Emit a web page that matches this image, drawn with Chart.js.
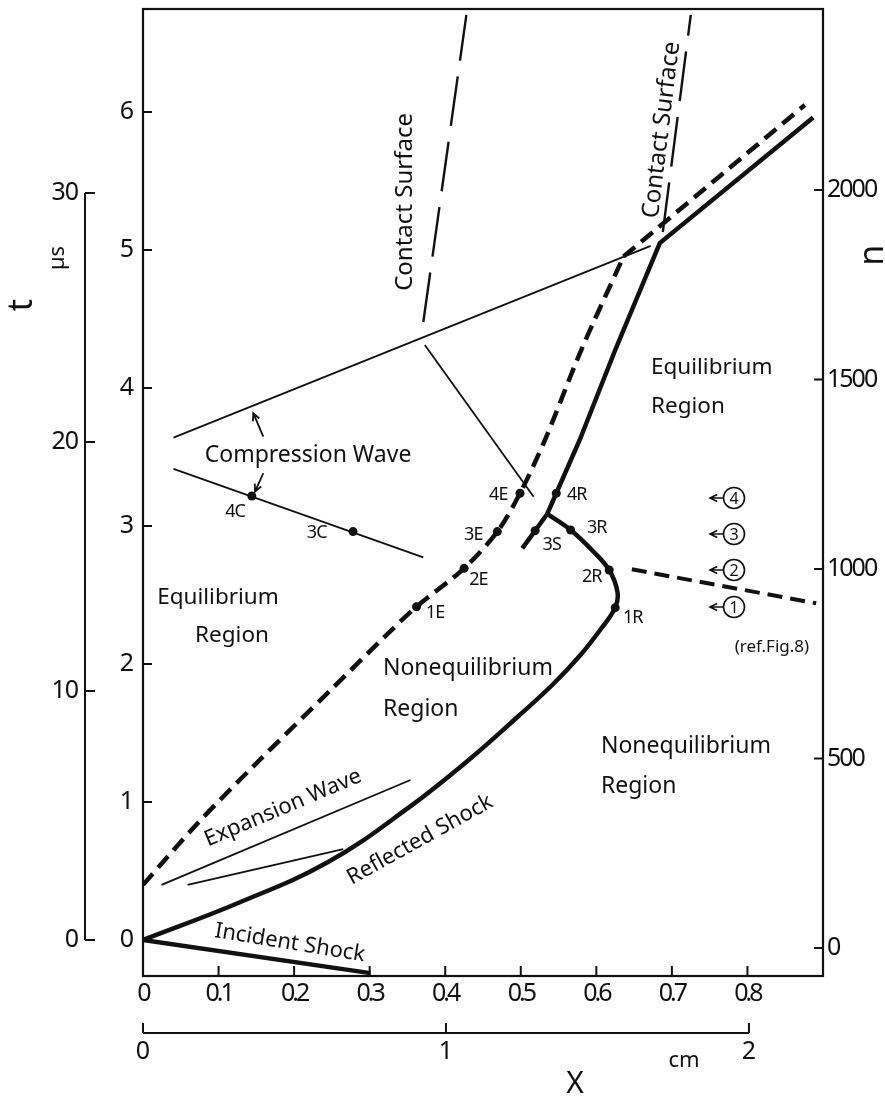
<!DOCTYPE html>
<html>
<head>
<meta charset="utf-8">
<script src="https://cdn.jsdelivr.net/npm/chart.js@4.4.0/dist/chart.umd.min.js"></script>
<style>
  html, body { margin: 0; padding: 0; background: #fff; }
</style>
</head>
<body>
<canvas id="c" width="885" height="1098"></canvas>
<script>
// axes
const X_TICKS = [0, 0.1, 0.2, 0.3, 0.4, 0.5, 0.6, 0.7, 0.8];
const T_TICKS = [0, 1, 2, 3, 4, 5, 6];
const N_TICKS = [0, 500, 1000, 1500, 2000];
const US_TICKS = [0, 10, 20, 30];   // left ruler, t in microseconds
const CM_TICKS = [0, 1, 2];         // bottom ruler, x in cm
const US_TO_T = 5.413 / 30;
const CM_TO_X = 0.401;

// wave paths (x, t)
const INCIDENT_SHOCK = [[0, 0], [0.301, -0.24]];
const REFLECTED_SHOCK = [[0, 0], [0.126, 0.268], [0.245, 0.565], [0.351, 0.957], [0.431, 1.304],
  [0.497, 1.623], [0.543, 1.855], [0.579, 2.065], [0.605, 2.246], [0.625, 2.408],
  [0.628, 2.52], [0.617, 2.681], [0.594, 2.826], [0.566, 2.971], [0.535, 3.087]];
const SHOCK_3S = [[0.502, 2.838], [0.535, 3.087]];
const SHOCK_UPPER = [[0.535, 3.087], [0.547, 3.237], [0.578, 3.623], [0.625, 4.275], [0.684, 5.05], [0.887, 5.96]];
const FRONT_DASHED = [[0, 0.40], [0.073, 0.85], [0.15, 1.28], [0.25, 1.82], [0.32, 2.198], [0.362, 2.415],
  [0.425, 2.693], [0.469, 2.959], [0.499, 3.237], [0.532, 3.623], [0.580, 4.275], [0.636, 4.952]];
const FRONT_DASHED_UPPER = [[0.636, 4.952], [0.876, 6.05]];
const REF_LINE = [[0.647, 2.686], [0.891, 2.44]];
const EXPANSION_1 = [[0.0245, 0.399], [0.354, 1.159]];
const EXPANSION_2 = [[0.059, 0.399], [0.265, 0.659]];
const COMPRESSION_1 = [[0.0404, 3.640], [0.672, 5.03]];
const COMPRESSION_2 = [[0.0404, 3.413], [0.371, 2.773]];
const WAVE_CROSS = [[0.373, 4.312], [0.517, 3.212]];
const CONTACT_L = [[0.371, 4.478], [0.428, 6.703]];
const CONTACT_R = [[0.688, 5.13], [0.725, 6.703]];

// marked states
const POINTS_E = [[0.362, 2.415], [0.425, 2.693], [0.469, 2.959], [0.499, 3.237]];
const POINTS_R = [[0.625, 2.408], [0.617, 2.681], [0.566, 2.971], [0.547, 3.237]];
const POINTS_S = [[0.519, 2.966]];
const POINTS_C = [[0.144, 3.217], [0.278, 2.959]];
const LEVELS = [2.413, 2.681, 2.942, 3.203];   // circled 1..4

const INK = '#111';
const FONT = "'Noto Sans', 'DejaVu Sans', sans-serif";

const xy = arr => arr.map(([x, y]) => ({ x, y }));
function path(arr, width, dash, tension) {
  return {
    data: xy(arr), showLine: true, borderColor: INK, borderWidth: width,
    borderDash: dash || [], pointRadius: 0, tension: tension || 0, fill: false, borderCapStyle: 'butt'
  };
}

function text(ctx, str, xp, yp, size, o = {}) {
  ctx.save();
  ctx.font = `${size}px ${FONT}`;
  ctx.fillStyle = INK;
  ctx.textAlign = o.align || 'center';
  ctx.textBaseline = 'middle';
  ctx.letterSpacing = o.spacing || '0px';
  ctx.translate(xp, yp);
  if (o.angle) ctx.rotate(o.angle * Math.PI / 180);
  ctx.fillText(str, 0, 0);
  ctx.restore();
}

function arrow(ctx, x1, y1, x2, y2) {
  const a = Math.atan2(y2 - y1, x2 - x1), h = 8;
  ctx.beginPath();
  ctx.moveTo(x1, y1); ctx.lineTo(x2, y2);
  ctx.moveTo(x2 - h * Math.cos(a - 0.45), y2 - h * Math.sin(a - 0.45));
  ctx.lineTo(x2, y2);
  ctx.lineTo(x2 - h * Math.cos(a + 0.45), y2 - h * Math.sin(a + 0.45));
  ctx.stroke();
}

const paper = {
  id: 'paper',
  beforeDraw(chart) {
    const { ctx, width, height } = chart;
    ctx.save();
    ctx.fillStyle = '#fff';
    ctx.fillRect(0, 0, width, height);
    ctx.restore();
  },
  afterDatasetsDraw(chart) {
    const { ctx, chartArea: a, scales } = chart;
    const X = v => scales.x.getPixelForValue(v);
    const T = v => scales.y.getPixelForValue(v);
    const N = v => scales.n.getPixelForValue(v);
    ctx.save();
    ctx.strokeStyle = INK;
    ctx.lineCap = 'butt';

    // frame
    ctx.lineWidth = 2.2;
    ctx.strokeRect(a.left, a.top, a.right - a.left, a.bottom - a.top);

    // inward ticks + labels
    ctx.lineWidth = 2;
    ctx.beginPath();
    T_TICKS.forEach(v => { ctx.moveTo(a.left, T(v)); ctx.lineTo(a.left + 9, T(v)); });
    N_TICKS.forEach(v => { ctx.moveTo(a.right, N(v)); ctx.lineTo(a.right - 9, N(v)); });
    X_TICKS.forEach(v => { ctx.moveTo(X(v), a.bottom); ctx.lineTo(X(v), a.bottom - 10); });
    ctx.stroke();
    T_TICKS.forEach(v => text(ctx, String(v), a.left - 9, T(v), 25, { align: 'right' }));
    N_TICKS.forEach(v => text(ctx, String(v), a.right + 4, N(v), 25, { align: 'left', spacing: '-2px' }));
    X_TICKS.forEach(v => text(ctx, v === 0 ? '0' : v.toFixed(1), X(v), a.bottom + 18, 25, { spacing: '-3px' }));

    // left ruler (microseconds)
    const rx = 85;
    ctx.beginPath();
    ctx.moveTo(rx, T(0)); ctx.lineTo(rx, T(30 * US_TO_T));
    US_TICKS.forEach(v => { ctx.moveTo(rx, T(v * US_TO_T)); ctx.lineTo(rx + 10, T(v * US_TO_T)); });
    ctx.stroke();
    US_TICKS.forEach(v => text(ctx, String(v), rx - 7, T(v * US_TO_T), 25, { align: 'right', spacing: '-1px' }));

    // bottom ruler (cm)
    const ry = 1033;
    ctx.beginPath();
    ctx.moveTo(X(0), ry); ctx.lineTo(X(2 * CM_TO_X), ry);
    CM_TICKS.forEach(v => { ctx.moveTo(X(v * CM_TO_X), ry); ctx.lineTo(X(v * CM_TO_X), ry - 10); });
    ctx.stroke();
    CM_TICKS.forEach(v => text(ctx, String(v), X(v * CM_TO_X), ry + 19, 25));
    text(ctx, 'cm', X(0.716), ry + 28, 22);
    text(ctx, 'X', X(0.5717), 1084, 30);

    // axis titles
    text(ctx, 't', 22, T(4.601), 34, { angle: -90 });
    text(ctx, 'µs', 58, T(4.942), 22, { angle: -90 });
    text(ctx, 'n', 873, N(1828), 34, { angle: -90 });

    // region and wave labels
    text(ctx, 'Compression Wave', X(0.2184), T(3.514), 23);
    text(ctx, 'Equilibrium', X(0.6723), T(4.145), 22.5, { align: 'left' });
    text(ctx, 'Region', X(0.6723), T(3.862), 22.5, { align: 'left' });
    text(ctx, 'Equilibrium', X(0.0993), T(2.478), 22.5);
    text(ctx, 'Region', X(0.1178), T(2.203), 22.5);
    text(ctx, 'Nonequilibrium', X(0.3176), T(1.971), 23, { align: 'left' });
    text(ctx, 'Region', X(0.3176), T(1.667), 23, { align: 'left' });
    text(ctx, 'Nonequilibrium', X(0.6061), T(1.399), 23, { align: 'left' });
    text(ctx, 'Region', X(0.6061), T(1.116), 23, { align: 'left' });
    text(ctx, 'Expansion Wave', X(0.1853), T(0.957), 22, { angle: -22.9 });
    text(ctx, 'Reflected Shock', X(0.3666), T(0.725), 22, { angle: -29 });
    text(ctx, 'Incident Shock', X(0.1945), T(-0.022), 22, { angle: 9.3 });
    text(ctx, 'Contact Surface', X(0.3467), T(5.348), 24, { angle: -90 });
    text(ctx, 'Contact Surface', X(0.6865), T(5.87), 24, { angle: -83 });
    text(ctx, '(ref.Fig.8)', X(0.8324), T(2.123), 17);

    // point labels
    const pl = [['4E', 0.4702, 3.225], ['3E', 0.4371, 2.935], ['2E', 0.4438, 2.609], ['1E', 0.3865, 2.367],
      ['4R', 0.574, 3.225], ['3S', 0.5409, 2.862], ['3R', 0.6005, 2.983], ['2R', 0.5938, 2.633],
      ['1R', 0.6481, 2.331], ['4C', 0.1218, 3.104], ['3C', 0.2299, 2.947]];
    pl.forEach(([s, x, t]) => text(ctx, s, X(x), T(t), 18, { spacing: '-1px' }));

    // compression wave arrows
    ctx.lineWidth = 1.8;
    arrow(ctx, X(0.1592), T(3.647), X(0.146), T(3.817));
    arrow(ctx, X(0.1592), T(3.382), X(0.1482), T(3.249));

    // circled states with arrows
    ctx.lineWidth = 1.6;
    LEVELS.forEach((t, i) => {
      const cx = X(0.7822), cy = T(t);
      ctx.beginPath();
      ctx.arc(cx, cy, 10.5, 0, Math.PI * 2);
      ctx.stroke();
      text(ctx, String(i + 1), cx, cy + 1, 16);
      arrow(ctx, cx - 11, cy, cx - 24, cy);
    });
    ctx.restore();
  }
};

new Chart(document.getElementById('c'), {
  type: 'scatter',
  data: {
    datasets: [
      path(INCIDENT_SHOCK, 4.5),
      path(REFLECTED_SHOCK, 4.5, null, 0.4),
      path(SHOCK_3S, 4.5),
      path(SHOCK_UPPER, 4.5),
      path(FRONT_DASHED, 4.5, [15, 8], 0.3),
      path(FRONT_DASHED_UPPER, 4.5, [15, 8]),
      path(REF_LINE, 4, [15, 8]),
      path(EXPANSION_1, 1.8),
      path(EXPANSION_2, 1.8),
      path(COMPRESSION_1, 1.8),
      path(COMPRESSION_2, 1.8),
      path(WAVE_CROSS, 1.8),
      path(CONTACT_L, 2.4, [50, 16]),
      path(CONTACT_R, 2.4, [50, 16]),
      {
        data: xy([...POINTS_E, ...POINTS_R, ...POINTS_S, ...POINTS_C]), showLine: false,
        pointRadius: 4.5, pointBackgroundColor: INK, pointBorderWidth: 0
      }
    ]
  },
  options: {
    responsive: false,
    animation: false,
    devicePixelRatio: 1,
    events: [],
    layout: { padding: { left: 143, right: 62, top: 9, bottom: 122 } },
    plugins: { legend: { display: false }, tooltip: { enabled: false } },
    scales: {
      x: { type: 'linear', min: 0, max: 0.9, display: false },
      y: { type: 'linear', min: -0.261, max: 6.746, display: false },
      n: { type: 'linear', position: 'right', min: -73.9, max: 2477.6, display: false }
    }
  },
  plugins: [paper]
});
</script>
</body>
</html>
